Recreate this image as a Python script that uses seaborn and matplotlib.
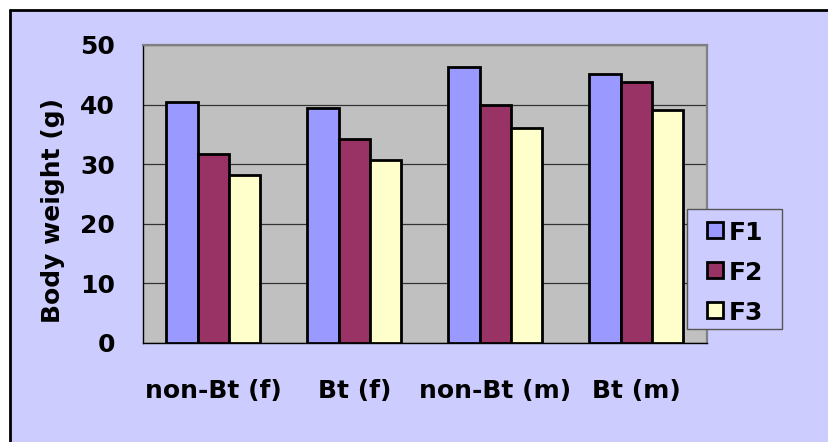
import matplotlib
matplotlib.use("Agg")
import matplotlib.pyplot as plt
from matplotlib.patches import Rectangle
from matplotlib.lines import Line2D
from matplotlib.ticker import FixedLocator
import seaborn as sns
import pandas as pd

# values
groups = ["non-Bt (f)", "Bt (f)", "non-Bt (m)", "Bt (m)"]
generations = ["F1", "F2", "F3"]
f1 = [40.4, 39.4, 46.3, 45.2]
f2 = [31.7, 34.3, 40.0, 43.8]
f3 = [28.2, 30.7, 36.1, 39.1]
y_ticks = [0, 10, 20, 30, 40, 50]

colors = {"F1": "#9999FF", "F2": "#993366", "F3": "#FFFFCC"}

df = pd.DataFrame({
    "group": groups * 3,
    "gen": ["F1"] * 4 + ["F2"] * 4 + ["F3"] * 4,
    "weight": f1 + f2 + f3,
})

sns.set_style("white")
plt.rcParams["font.family"] = ["DejaVu Sans"]
plt.rcParams["font.weight"] = "bold"
plt.rcParams["text.color"] = "black"
plt.rcParams["xtick.color"] = "black"
plt.rcParams["ytick.color"] = "black"
plt.rcParams["axes.labelcolor"] = "black"

W, H = 829, 442
fig = plt.figure(figsize=(W / 100, H / 100), dpi=100, facecolor="white")

# lavender chart area, black border only on top and left (rest is cut off)
fig.patches.append(Rectangle((10 / W, 0), 1, 1 - 10 / H, transform=fig.transFigure,
                             facecolor="#CCCCFF", edgecolor="none", zorder=-5))
fig.lines.append(Line2D([10 / W, 1], [1 - 10 / H, 1 - 10 / H], transform=fig.transFigure,
                        color="black", linewidth=2, zorder=-4))
fig.lines.append(Line2D([10 / W, 10 / W], [0, 1 - 10 / H], transform=fig.transFigure,
                        color="black", linewidth=2, zorder=-4))

ax = fig.add_axes([143 / W, 1 - 343 / H, (707 - 143) / W, (343 - 45) / H])
ax.set_facecolor("#C0C0C0")

sns.barplot(data=df, x="group", y="weight", hue="gen", order=groups,
            hue_order=generations, palette=colors, width=2 / 3, gap=0,
            edgecolor="black", linewidth=2, saturation=1, ax=ax, zorder=3)

ax.set_ylim(0, 50)
ax.set_xlim(-0.5, 3.5)
ax.set_yticks(y_ticks)
ax.yaxis.grid(True, color="#333333", linewidth=0.9, zorder=1)
ax.set_axisbelow(True)

for side in ["top", "right"]:
    ax.spines[side].set_color("#808080")
    ax.spines[side].set_linewidth(1.6)
for side in ["left", "bottom"]:
    ax.spines[side].set_color("black")
    ax.spines[side].set_linewidth(1.0)

ax.tick_params(axis="y", direction="out", length=7, width=1, pad=13,
               labelsize=18, colors="black")
ax.tick_params(axis="x", which="major", length=0, pad=26, labelsize=18,
               colors="black")
ax.xaxis.set_minor_locator(FixedLocator([-0.5, 0.5, 1.5, 2.5, 3.5]))
ax.tick_params(axis="x", which="minor", direction="inout", length=14,
               width=1, color="#333333")
for lab in ax.get_xticklabels() + ax.get_yticklabels():
    lab.set_fontweight("bold")

ax.set_xlabel("")
ax.set_ylabel("Body weight (g)", fontsize=18, fontweight="bold", color="black")
ax.yaxis.set_label_coords(-0.139, 0.446)

# legend: frame drawn separately (Excel style wide padding)
ax.add_patch(Rectangle((687 / W, 1 - 329 / H), 95 / W, 120 / H,
                       transform=fig.transFigure, facecolor="#CCCCFF",
                       edgecolor="#555555", linewidth=1.0, clip_on=False,
                       zorder=4.5))
leg_handles = [Line2D([], [], linestyle="none", marker="s", markersize=11,
                      markerfacecolor=colors[g], markeredgecolor="black",
                      markeredgewidth=2) for g in generations]
if ax.get_legend() is not None:
    ax.get_legend().remove()
ax.legend(leg_handles, generations, loc="upper left",
          bbox_to_anchor=(707 / W, 1 - 220.5 / H), bbox_transform=fig.transFigure,
          frameon=False, prop={"size": 18, "weight": "bold"},
          handlelength=0.64, handleheight=1.0, handletextpad=0.25,
          labelspacing=0.6, borderpad=0, borderaxespad=0)

fig.savefig("out.png", dpi=100, facecolor=fig.get_facecolor())
